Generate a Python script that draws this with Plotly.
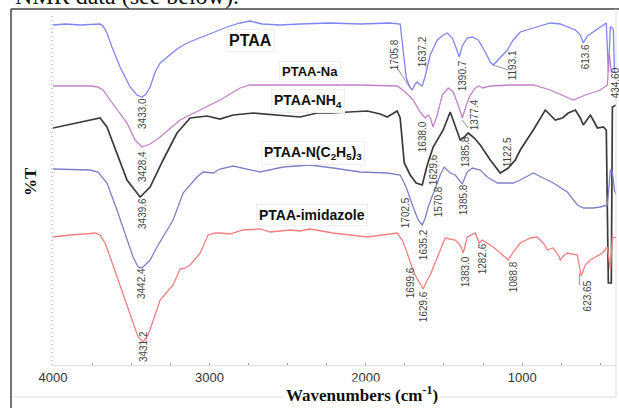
import plotly.graph_objects as go

# ---------------- data (wavenumber cm-1, offset %T in arbitrary units) ----------------
ptaa_wn = [4000, 3923, 3827, 3750, 3699, 3680, 3655, 3623, 3571, 3507, 3463, 3431, 3405, 3379, 3347,
           3315, 3271, 3207, 3143, 3079, 3015, 2951, 2887, 2804, 2740, 2663, 2548, 2420, 2228, 2036,
           1844, 1780, 1761, 1741, 1716, 1703, 1684, 1671, 1652, 1639, 1620, 1588, 1543, 1505, 1479,
           1447, 1422, 1402, 1383, 1351, 1319, 1281, 1236, 1204, 1185, 1153, 1095, 1057, 1012, 929,
           820, 756, 711, 660, 628, 609, 583, 545, 500, 462, 449, 436, 423, 417, 410, 398]
ptaa_t = [340, 341, 340, 341, 341, 339, 332, 318, 298, 278, 270, 268, 271, 278, 293,
          302, 308, 316, 322, 326, 330, 334, 338, 342, 344, 341, 340, 341, 342, 341,
          342, 341, 315, 287, 277, 275, 281, 283, 280, 279, 289, 310, 325, 330, 332,
          327, 317, 308, 319, 327, 328, 325, 313, 303, 300, 305, 315, 325, 333, 337,
          342, 341, 338, 335, 330, 322, 329, 333, 338, 342, 293, 338, 337, 335, 293, 291]

na_wn = [4000, 3891, 3763, 3712, 3680, 3635, 3571, 3527, 3475, 3431, 3379, 3315, 3187, 3059, 2932,
         2804, 2740, 2548, 2292, 2036, 1799, 1748, 1697, 1652, 1620, 1601, 1588, 1569, 1543, 1511,
         1473, 1441, 1409, 1383, 1357, 1332, 1300, 1275, 1255, 1204, 1076, 929, 820, 724, 673,
         596, 500, 455, 443, 430, 398]
na_t = [279, 279, 279, 278, 275, 265, 252, 242, 225, 218, 221, 228, 245, 255, 265,
        277, 280, 280, 280, 280, 279, 273, 265, 253, 247, 250, 247, 238, 250, 270,
        277, 273, 260, 247, 260, 270, 277, 279, 277, 279, 280, 280, 275, 268, 265,
        270, 275, 280, 312, 293, 293]

nh4_wn = [4000, 3910, 3808, 3718, 3699, 3655, 3591, 3527, 3443, 3379, 3296, 3207, 3123, 3015, 2932,
          2848, 2720, 2548, 2420, 2311, 2228, 1991, 1908, 1863, 1825, 1799, 1780, 1767, 1754, 1716,
          1678, 1639, 1607, 1569, 1505, 1460, 1428, 1396, 1370, 1345, 1306, 1268, 1204, 1140, 1089,
          1044, 1012, 929, 852, 807, 788, 743, 705, 660, 628, 609, 564, 539, 519, 481,
          462, 449, 430, 423, 398]
nh4_t = [237, 240, 244, 247, 247, 238, 212, 185, 168, 178, 205, 232, 247, 249, 246,
         250, 252, 250, 248, 252, 252, 254, 251, 248, 252, 254, 247, 225, 202, 190,
         182, 180, 200, 218, 235, 253, 240, 225, 228, 232, 227, 220, 205, 192, 197,
         205, 215, 235, 255, 248, 245, 247, 252, 255, 247, 240, 250, 243, 237, 238,
         235, 82, 82, 258, 260]

tea_wn = [4000, 3763, 3712, 3655, 3591, 3527, 3488, 3456, 3431, 3379, 3335, 3232, 3168, 3079, 3040,
          2976, 2932, 2848, 2676, 2528, 2356, 2209, 2036, 1863, 1780, 1754, 1735, 1697, 1665, 1639,
          1620, 1601, 1556, 1524, 1498, 1460, 1428, 1383, 1351, 1319, 1268, 1223, 1159, 1057, 1012,
          929, 865, 801, 711, 647, 609, 545, 500, 455, 436, 423, 410, 398]
tea_t = [196, 195, 193, 182, 155, 125, 108, 98, 97, 105, 118, 145, 172, 188, 193,
         192, 196, 199, 193, 198, 200, 197, 193, 192, 190, 182, 175, 158, 145, 140,
         147, 158, 178, 190, 198, 192, 190, 181, 193, 197, 195, 188, 182, 182, 185,
         192, 187, 182, 173, 160, 157, 157, 158, 160, 195, 193, 175, 170]

imi_wn = [4000, 3891, 3795, 3731, 3699, 3667, 3635, 3571, 3507, 3456, 3424, 3392, 3347, 3315, 3271,
          3232, 3187, 3155, 3123, 3059, 3008, 2964, 2932, 2868, 2784, 2676, 2612, 2484, 2420, 2356,
          2209, 1991, 1799, 1767, 1735, 1710, 1684, 1658, 1633, 1607, 1588, 1575, 1543, 1492, 1428,
          1396, 1377, 1351, 1300, 1275, 1255, 1185, 1140, 1089, 1057, 1012, 948, 903, 865, 839,
          801, 769, 756, 731, 711, 647, 622, 596, 564, 487, 455, 436, 423, 398]
imi_t = [128, 130, 131, 132, 130, 122, 108, 80, 50, 28, 23, 30, 50, 65, 73,
         80, 96, 97, 100, 112, 130, 132, 132, 131, 135, 136, 133, 135, 134, 136,
         132, 128, 132, 125, 112, 100, 90, 83, 76, 85, 90, 95, 108, 127, 125,
         120, 112, 128, 132, 122, 125, 118, 112, 105, 113, 122, 127, 128, 122, 115,
         117, 110, 105, 110, 112, 110, 89, 100, 105, 112, 118, 95, 128, 127]

series_names = ["PTAA", "PTAA-Na", "PTAA-NH4", "PTAA-N(C2H5)3", "PTAA-imidazole"]
series_x = [ptaa_wn, na_wn, nh4_wn, tea_wn, imi_wn]
series_y = [ptaa_t, na_t, nh4_t, tea_t, imi_t]

# curve name labels: (text, wavenumber, %T, font size)
name_labels = [
    ("PTAA", 2740, 325, 16),
    ("PTAA-Na", 2356, 294, 13),
    ("PTAA-NH<sub>4</sub>", 2369, 264, 14),
    ("PTAA-N(C<sub>2</sub>H<sub>5</sub>)<sub>3</sub>", 2337, 212, 14),
    ("PTAA-imidazole", 2343, 150, 14),
]

# peak labels: (text, wavenumber, %T)
peak_labels = [
    ("3433.0", 3431, 252), ("3428.4", 3431, 199), ("3439.6", 3431, 152),
    ("3442.4", 3437, 81), ("3431.2", 3424, 18),
    ("1705.8", 1818, 310), ("1637.2", 1639, 313), ("1390.7", 1383, 289),
    ("1193.1", 1063, 300), ("613.6", 596, 308), ("434.60", 404, 282),
    ("1638.0", 1639, 228), ("1377.4", 1306, 250),
    ("1629.6", 1569, 195), ("1385.8", 1364, 213), ("1122.5", 1095, 213),
    ("1702.5", 1748, 152), ("1635.2", 1633, 120), ("1570.8", 1537, 163), ("1385.8", 1377, 165),
    ("1699.6", 1716, 82), ("1629.6", 1633, 58), ("1383.0", 1364, 93), ("1282.6", 1255, 106),
    ("1088.8", 1057, 88), ("623.65", 583, 69),
]

# leader lines from label to peak: (wn0, t0, wn1, t1)
leaders = [
    (1799, 297, 1716, 277),
    (1185, 300, 1089, 295),
    (1383, 245, 1345, 237),
    (634, 92, 634, 80),
]

x_ticks = [4000, 3000, 2000, 1000]

# ---------------- figure ----------------
colors = ["#7f86f2", "#c282c9", "#3a3a3a", "#7e80c9", "#f37f7f"]
widths = [1.3, 1.3, 1.7, 1.3, 1.3]

fig = go.Figure()
for name, xs, ys, c, w in zip(series_names, series_x, series_y, colors, widths):
    fig.add_trace(go.Scatter(x=xs, y=ys, mode="lines", name=name,
                             line=dict(color=c, width=w), showlegend=False))

annotations = []
for txt, wn, t, fs in name_labels:
    annotations.append(dict(x=wn, y=t, xref="x", yref="y", text="<b>" + txt + "</b>",
                            showarrow=False, font=dict(family="Liberation Sans, Arial", size=fs, color="#111"),
                            bgcolor="white", bordercolor="#efefef", borderwidth=1, borderpad=2))
for txt, wn, t in peak_labels:
    annotations.append(dict(x=wn, y=t, xref="x", yref="y", text=txt, textangle=-90,
                            showarrow=False, font=dict(family="Liberation Sans, Arial", size=10, color="#444")))

annotations.append(dict(x=-0.071, y=1.054, xref="paper", yref="paper", xanchor="left", yanchor="middle",
                        text="NMR data (see below).", showarrow=False,
                        font=dict(family="Liberation Serif, Times New Roman", size=24, color="#111")))
annotations.append(dict(x=-0.039, y=0.523, xref="paper", yref="paper", xanchor="center", yanchor="middle",
                        text="<b>%T</b>", textangle=-90,
                        showarrow=False, font=dict(family="Liberation Serif, Times New Roman", size=17, color="#111")))
annotations.append(dict(x=0.549, y=-0.083, xref="paper", yref="paper", xanchor="center", yanchor="middle",
                        text="<b>Wavenumbers (cm<sup>-1</sup>)</b>", showarrow=False, bgcolor="white",
                        font=dict(family="Liberation Serif, Times New Roman", size=17, color="#111")))

shapes = []
for x0, y0, x1, y1 in leaders:
    shapes.append(dict(type="line", xref="x", yref="y", x0=x0, y0=y0, x1=x1, y1=y1,
                       line=dict(color="#777", width=0.8)))
# dotted y axis
shapes.append(dict(type="line", xref="paper", yref="paper", x0=-0.002, x1=-0.002, y0=0, y1=1.0,
                   line=dict(color="#999", width=1, dash="1px,3px")))
# figure frame
shapes.append(dict(type="line", xref="paper", yref="paper", x0=-0.0746, x1=-0.0746, y0=1.017, y1=-0.13,
                   line=dict(color="#444", width=1.5)))
shapes.append(dict(type="line", xref="paper", yref="paper", x0=-0.0746, x1=1.01, y0=1.017, y1=1.017,
                   line=dict(color="#444", width=1.5)))
shapes.append(dict(type="line", xref="paper", yref="paper", x0=1.0, x1=1.0, y0=1.017, y1=-0.0914,
                   line=dict(color="#ddd", width=1)))
shapes.append(dict(type="line", xref="paper", yref="paper", x0=-0.072, x1=1.0, y0=-0.0914, y1=-0.0914,
                   line=dict(color="#ddd", width=1), layer="below"))

fig.update_layout(
    width=619, height=408,
    margin=dict(l=53, r=3, t=15, b=43),
    paper_bgcolor="white", plot_bgcolor="white",
    annotations=annotations, shapes=shapes,
    xaxis=dict(range=[4000, 400], tickvals=x_ticks, ticktext=[str(v) for v in x_ticks],
               showgrid=False, zeroline=False, showline=True, linecolor="#e0e0e0", linewidth=1,
               ticks="inside", ticklen=2, tickcolor="#999",
               minor=dict(dtick=250, tick0=0, ticks="inside", ticklen=2, tickcolor="#999"),
               tickfont=dict(family="Liberation Sans, Arial", size=13, color="#333")),
    yaxis=dict(range=[0, 350], showgrid=False, zeroline=False, showline=False,
               showticklabels=False, ticks=""),
)

fig.write_html("out.html", config={"displayModeBar": False},
               post_script="document.body.style.margin='0';document.body.style.padding='0';document.body.style.overflow='hidden';")
